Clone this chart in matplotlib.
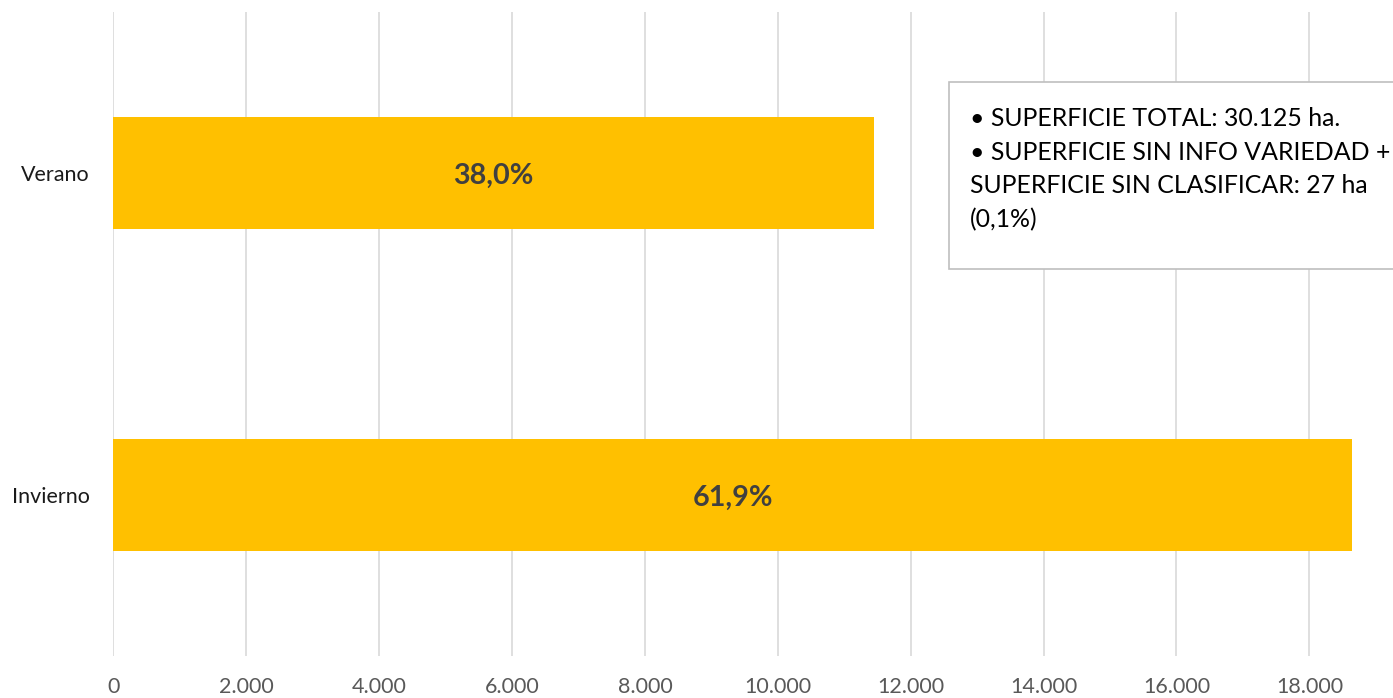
import matplotlib.pyplot as plt
from matplotlib.patches import Rectangle
from matplotlib.ticker import FuncFormatter

# === Data ===
categorias = ["Invierno", "Verano"]
superficie = [18647, 11448]
porcentajes = ["61,9%", "38,0%"]
ticks_x = [0, 2000, 4000, 6000, 8000, 10000, 12000, 14000, 16000, 18000]
nota = ("• SUPERFICIE TOTAL: 30.125 ha.\n"
        "• SUPERFICIE SIN INFO VARIEDAD +\n"
        "SUPERFICIE SIN CLASIFICAR: 27 ha\n"
        "(0,1%)")

plt.rcParams['font.family'] = ['Lato', 'DejaVu Sans']

W, H = 1393, 698
fig = plt.figure(figsize=(W / 100, H / 100), dpi=100)
ax = fig.add_axes([113.3 / W, (H - 656) / H, 1 - 113.3 / W, (656 - 12) / H])

ypos = list(range(len(categorias)))
ax.barh(ypos, superficie, height=0.35, color="#FFC000", zorder=2)

for y, v, p in zip(ypos, superficie, porcentajes):
    ax.text(v / 2, y - 0.01, p, ha="center", va="center", fontsize=20.7,
            fontweight="bold", color="#404040", zorder=3)

ax.set_xlim(0, (W - 113.3) / 0.06645)
ax.set_ylim(-0.5, 1.5)
ax.set_xticks(ticks_x)
ax.xaxis.set_major_formatter(FuncFormatter(lambda x, _: f"{int(x):,}".replace(",", ".")))
ax.set_yticks(ypos)
ax.set_yticklabels(categorias)
ax.tick_params(axis="x", length=0, pad=15, labelsize=15.5, labelcolor="#595959")
ax.tick_params(axis="y", length=0, pad=17, labelsize=15.5, labelcolor="#1a1a1a")
ax.grid(axis="x", color="#D9D9D9", linewidth=1.2, zorder=0)
ax.set_axisbelow(True)
for s in ax.spines.values():
    s.set_visible(False)

# === Text box (cropped on the right like the original) ===
box = Rectangle((949 / W, (H - 269) / H), (1500 - 949) / W, (269 - 82) / H,
                transform=fig.transFigure, facecolor="white",
                edgecolor="#BFBFBF", linewidth=1.2, zorder=5, clip_on=False)
fig.patches.append(box)
fig.text(970 / W, (H - 107) / H, nota, ha="left", va="top", fontsize=17.9,
         color="#000000", linespacing=1.56, zorder=6)

plt.savefig("out.png", dpi=100)
